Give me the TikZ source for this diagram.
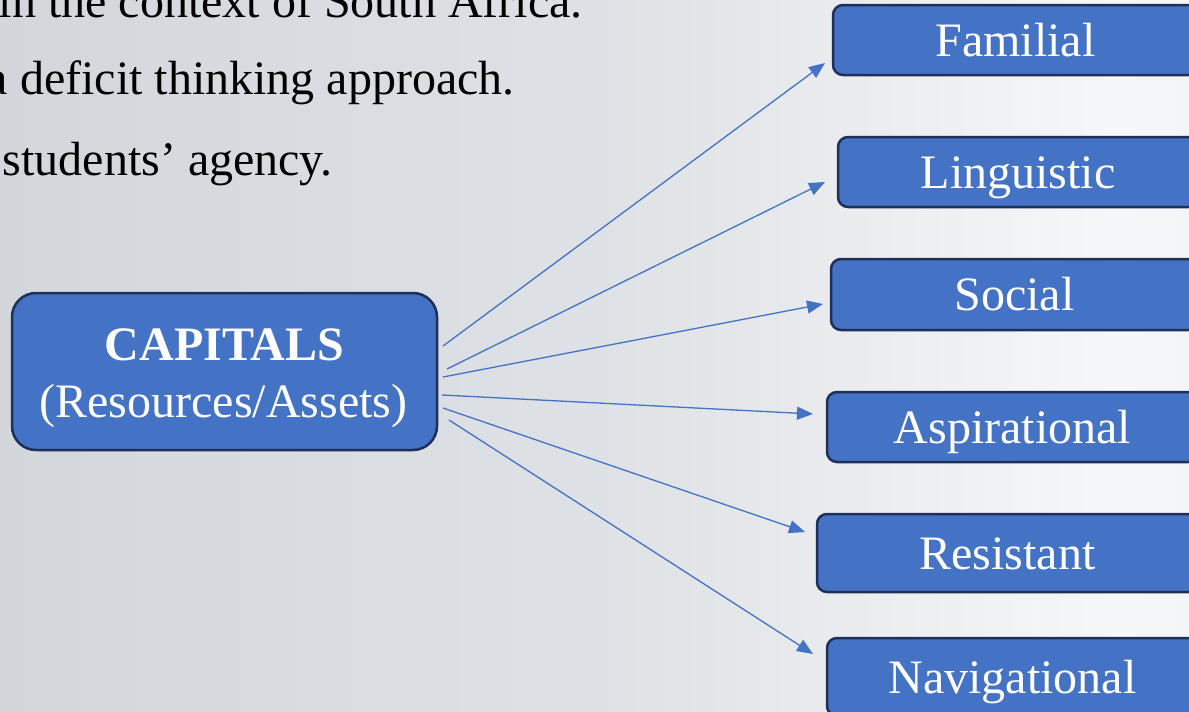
\documentclass[tikz,border=0pt]{standalone}
\usepackage{fontspec}
\setmainfont{Liberation Serif}
\usetikzlibrary{arrows.meta}
\definecolor{bgA}{RGB}{200,204,210}
\definecolor{bgB}{RGB}{222,225,229}
\definecolor{bgC}{RGB}{246,247,248}
\definecolor{bgD}{RGB}{228,230,233}
\definecolor{boxblue}{RGB}{68,114,196}
\definecolor{navy}{RGB}{30,48,88}
\definecolor{arrblue}{RGB}{68,114,196}
\pgfdeclarehorizontalshading{bgshade}{100bp}{color(0bp)=(bgA); color(50bp)=(bgB); color(72bp)=(bgC); color(100bp)=(bgD)}
\newcommand{\bigtxt}{\fontsize{48}{57}\selectfont}
\tikzset{
  capbox/.style={draw=navy, line width=2.5pt, fill=boxblue, rounded corners=24pt, inner sep=0pt,
    minimum width=425pt, minimum height=157pt},
  kindbox/.style={draw=navy, line width=2.5pt, fill=boxblue, rounded corners=10pt, inner sep=0pt,
    text=white, font=\bigtxt, text height=32pt, text depth=0pt},
  bodytxt/.style={font=\bigtxt, text=black, inner sep=0pt, anchor=base east},
  captxt/.style={font=\bigtxt, text=white, inner sep=0pt, anchor=base},
  arr/.style={draw=arrblue, line width=1.3pt, -{Triangle[length=16pt,width=13pt]}}
}
\begin{document}
\begin{tikzpicture}[x=1pt,y=-1pt]
\useasboundingbox (0,0) rectangle (1189,712);
\clip (0,0) rectangle (1189,712);
\shade[shading=bgshade] (0,0) rectangle (1189,712);

% bullet text (cut off at the left and top)
\node[bodytxt] (line1) at (583,17) {in the context of South Africa.};
\node[bodytxt] (line2) at (515,94) {a deficit thinking approach.};
\node[bodytxt] (line3) at (333,175) {students’ agency.};

% central box
\node[capbox] (cap) at (224.5,371.5) {};
\node[captxt] (captitle) at (224.5,360) {\bfseries CAPITALS};
\node[captxt] (capsub) at (223.5,417) {(Resources/Assets)};

% capital kinds
\node[kindbox, minimum width=365pt, minimum height=70pt] (fam) at (1015.5,40) {Familial};
\node[kindbox, minimum width=360pt, minimum height=70pt] (lin) at (1018,172) {Linguistic};
\node[kindbox, minimum width=367pt, minimum height=71pt] (soc) at (1014.5,294.5) {Social};
\node[kindbox, minimum width=371pt, minimum height=70pt] (asp) at (1012.5,427) {Aspirational};
\node[kindbox, minimum width=381pt, minimum height=78pt] (res) at (1007.5,553) {Resistant};
\node[kindbox, minimum width=371pt, minimum height=78pt] (nav) at (1012.5,677) {Navigational};

% connector ends
\coordinate (s1) at (443,346);
\coordinate (s2) at (447,369);
\coordinate (s3) at (443,377);
\coordinate (s4) at (442,395);
\coordinate (s5) at (443,408);
\coordinate (s6) at (449,420);
\coordinate (t1) at (825,63);
\coordinate (t2) at (825,182);
\coordinate (t3) at (823,304);
\coordinate (t4) at (813,414);
\coordinate (t5) at (805,532);
\coordinate (t6) at (813,654);

\draw[arr] (s1) -- (t1);
\draw[arr] (s2) -- (t2);
\draw[arr] (s3) -- (t3);
\draw[arr] (s4) -- (t4);
\draw[arr] (s5) -- (t5);
\draw[arr] (s6) -- (t6);
\end{tikzpicture}
\end{document}
